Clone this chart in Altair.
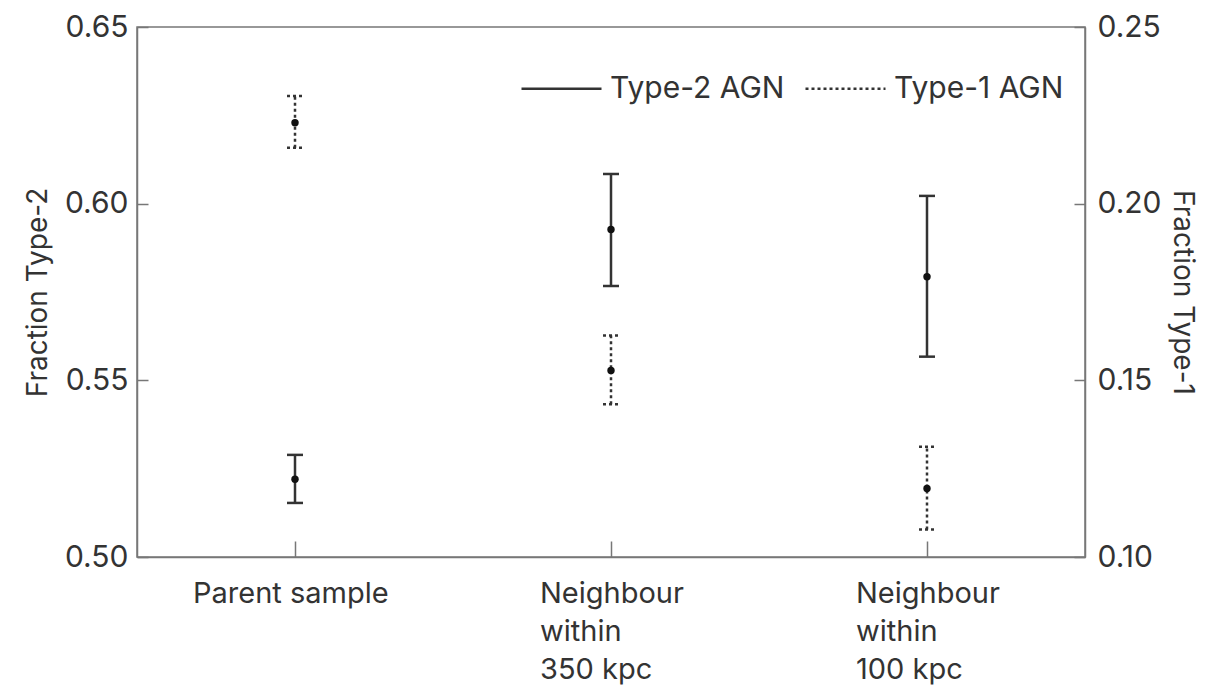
import altair as alt
import pandas as pd

# ---- data ----
categories = ["Parent sample", "Neighbour|within|350 kpc", "Neighbour|within|100 kpc"]
series_names = ["Type-2 AGN", "Type-1 AGN"]

type2_value = [0.5220, 0.5927, 0.5793]
type2_low = [0.5153, 0.5767, 0.5567]
type2_high = [0.5289, 0.6084, 0.6022]

type1_value = [0.2229, 0.1528, 0.1194]
type1_low = [0.2158, 0.1432, 0.1078]
type1_high = [0.2305, 0.1627, 0.1312]

left_ticks = [0.50, 0.55, 0.60, 0.65]
right_ticks = [0.10, 0.15, 0.20, 0.25]

df2 = pd.DataFrame({"category": categories, "series": series_names[0],
                    "value": type2_value, "low": type2_low, "high": type2_high})
df1 = pd.DataFrame({"category": categories, "series": series_names[1],
                    "value": type1_value, "low": type1_low, "high": type1_high})

FONT = "Inter"
INK = "#333333"
FRAME = "#777777"

x_enc = alt.X(
    "category:N", sort=categories,
    axis=alt.Axis(
        title=None,
        labelExpr="split(datum.label, '|')",
        labelAlign="left",
        labelBaseline="top",
        labelAngle=0,
        labelOffset={"condition": {"test": "datum.value == 'Parent sample'", "value": -102}, "value": -71},
        labelPadding=38,
        labelLineHeight=38,
        labelLimit=400,
        labelFontSize=29,
        tickSize={"expr": "-16"},
    ),
)

dash_enc = alt.StrokeDash(
    "series:N",
    scale=alt.Scale(domain=series_names, range=[[1, 0], [3, 3]]),
    legend=alt.Legend(
        title=None, orient="none", legendX=383, legendY=20, direction="horizontal",
        symbolType="stroke", symbolSize=6400, symbolStrokeWidth=2.5,
        symbolStrokeColor=INK, labelFontSize=30, labelFont=FONT, labelColor=INK,
        labelOffset=7, columnPadding=15, labelLimit=400,
    ),
)


def series_layer(df, domain, ticks, title, orient, dash, label_pad, title_pad):
    axis = alt.Axis(
        title=title, orient=orient, values=ticks, format=".2f", grid=False,
        tickSize={"expr": "-11"}, labelPadding=label_pad, titlePadding=title_pad,
        labelFontSize=30, titleFontSize=28,
    )
    scale = alt.Scale(domain=domain, nice=False, zero=False)
    base = alt.Chart(df)
    rule = base.mark_rule(strokeWidth=2.5, color=INK, strokeCap="butt").encode(
        x=x_enc,
        y=alt.Y("low:Q", scale=scale, axis=axis),
        y2="high:Q",
        strokeDash=dash_enc,
    )
    cap_props = dict(shape="stroke", size=256, strokeWidth=2.5, color=INK,
                     filled=False, opacity=1)
    if dash:
        cap_props["strokeDash"] = [3, 3]
    cap_lo = base.mark_point(**cap_props).encode(
        x=x_enc, y=alt.Y("low:Q", scale=scale, axis=axis))
    cap_hi = base.mark_point(**cap_props).encode(
        x=x_enc, y=alt.Y("high:Q", scale=scale, axis=axis))
    pt = base.mark_circle(size=55, color="#111111", opacity=1).encode(
        x=x_enc, y=alt.Y("value:Q", scale=scale, axis=axis))
    return alt.layer(rule, cap_lo, cap_hi, pt)


left = series_layer(df2, [0.50, 0.65], left_ticks, "Fraction Type-2", "left", False, 20, 12)
right = series_layer(df1, [0.10, 0.25], right_ticks, "Fraction Type-1", "right", True, 23, 6)

chart = (
    alt.layer(left, right)
    .resolve_scale(y="independent")
    .properties(
        width=948, height=530,
        autosize=alt.AutoSizeParams(type="none"),
        padding={"left": 129, "top": 19, "right": 115, "bottom": 128},
    )
    .configure(font=FONT)
    .configure_view(stroke=FRAME, strokeWidth=1.5)
    .configure_axis(
        labelFont=FONT, titleFont=FONT, labelColor=INK, titleColor=INK,
        titleFontWeight="normal", domainColor=FRAME, domainWidth=1.5,
        tickColor=FRAME, tickWidth=1.5,
    )
)

chart.save("out.html", embed_options={"renderer": "svg", "actions": False})
